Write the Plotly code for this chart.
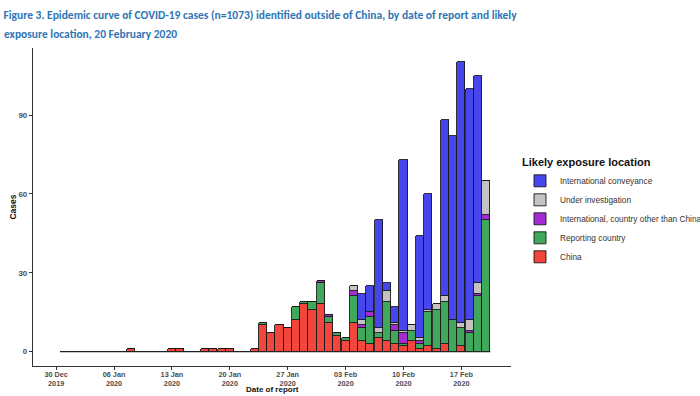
import pandas as pd
import plotly.graph_objects as go

# ---------------- data ----------------
start_date = "2019-12-31"
n_days = 52  # 31 Dec 2019 .. 20 Feb 2020
dates = pd.date_range(start_date, periods=n_days, freq="D")

china = [0, 0, 0, 0, 0, 0, 0, 0, 1, 0, 0, 0, 0, 1, 1, 0, 0, 1, 1, 1,
         1, 0, 0, 1, 10, 7, 10, 9, 12, 18, 16, 18, 11, 6, 4, 11, 4, 3, 5, 4,
         3, 2, 4, 1, 2, 1, 3, 0, 2, 0, 0, 0]
reporting = [0] * 24 + [1, 0, 0, 0, 5, 1, 3, 8, 2, 1, 1, 10, 5, 10, 2, 15,
                        5, 1, 4, 2, 13, 15, 16, 12, 7, 7, 21, 50]
intl_other = [0] * 24 + [0, 0, 0, 0, 0, 0, 0, 1, 1, 0, 0, 2, 1, 2, 0, 0,
                         2, 4, 0, 1, 0, 0, 0, 0, 0, 1, 1, 2]
under_inv = [0] * 24 + [0, 0, 0, 0, 0, 0, 0, 0, 0, 0, 0, 2, 2, 0, 2, 4,
                        1, 1, 2, 1, 1, 2, 2, 0, 2, 4, 4, 13]
conveyance = [0] * 24 + [0, 0, 0, 0, 0, 0, 0, 0, 0, 0, 0, 0, 10, 10, 41, 3,
                         6, 65, 0, 39, 44, 0, 67, 70, 99, 88, 79, 0]

series_names = ["China", "Reporting country",
                "International, country other than China",
                "Under investigation", "International conveyance"]
series_values = [china, reporting, intl_other, under_inv, conveyance]
series_colors = ["#F2463C", "#3FA85A", "#A42BD1", "#C4C2C2", "#4646EC"]

tick_dates = ["2019-12-30", "2020-01-06", "2020-01-13", "2020-01-20",
              "2020-01-27", "2020-02-03", "2020-02-10", "2020-02-17"]
tick_labels = ["30 Dec<br>2019", "06 Jan<br>2020", "13 Jan<br>2020", "20 Jan<br>2020",
               "27 Jan<br>2020", "03 Feb<br>2020", "10 Feb<br>2020", "17 Feb<br>2020"]
y_ticks = [0, 30, 60, 90]

title_line1 = "Figure 3. Epidemic curve of COVID-19 cases (n=1073) identified outside of China, by date of report and likely"
title_line2 = "exposure location, 20 February 2020"

# ---------------- figure ----------------
fig = go.Figure()

half_day = pd.Timedelta(hours=12)
fig.add_trace(go.Scatter(
    x=[dates[0] - half_day, dates[-1] + half_day], y=[0, 0],
    mode="lines", line=dict(color="#222222", width=1.2),
    showlegend=False, hoverinfo="skip"))

for name, vals, col in zip(series_names, series_values, series_colors):
    fig.add_trace(go.Bar(
        x=dates, y=vals, name=name,
        marker=dict(color=col, line=dict(color="#1a1a1a", width=0.9)),
        width=86400000 * 0.98))

ref0 = pd.Timestamp("2019-12-30")
sans = "Liberation Sans, Arial, sans-serif"
title_font = dict(family="Carlito, Liberation Sans Narrow, DejaVu Sans Condensed, Roboto, sans-serif",
                  size=11.5, color="#2E75B6")

fig.update_layout(
    width=700, height=396,
    barmode="stack", bargap=0,
    plot_bgcolor="white", paper_bgcolor="white",
    margin=dict(l=33, r=189, t=48, b=30, autoexpand=False),
    title=dict(
        text="<b>" + title_line1 + "</b>",
        font=title_font,
        x=0.005, xanchor="left", xref="container",
        y=1 - 15 / 396, yanchor="middle", yref="container"),
    xaxis=dict(
        type="date",
        range=[ref0 - pd.Timedelta(days=2.8), ref0 + pd.Timedelta(days=55.0)],
        tickmode="array", tickvals=tick_dates, ticktext=tick_labels,
        ticks="outside", ticklen=3, tickwidth=1, tickcolor="#333333",
        ticklabelstandoff=-2,
        tickfont=dict(family=sans, size=7.3, color="#4D4D4D", weight="bold"),
        showline=True, linecolor="#333333", linewidth=1.2,
        showgrid=False, zeroline=False, automargin=False),
    yaxis=dict(
        range=[-5.5, 115.5],
        tickmode="array", tickvals=y_ticks,
        ticks="outside", ticklen=3, tickwidth=1, tickcolor="#333333",
        tickfont=dict(family=sans, size=8, color="#4D4D4D", weight="bold"),
        showline=True, linecolor="#333333", linewidth=1.2,
        showgrid=False, zeroline=False, automargin=False,
        title=dict(text="<b>Cases</b>", standoff=0,
                   font=dict(family=sans, size=8.5, color="#111111"))),
    legend=dict(
        title=dict(text="<b>Likely exposure location</b>",
                   font=dict(family=sans, size=11, color="#111111")),
        traceorder="reversed",
        font=dict(family=sans, size=8.3, color="#333333"),
        x=520 / 700, xref="container", xanchor="left",
        y=1 - 152 / 396, yref="container", yanchor="top",
        bgcolor="rgba(0,0,0,0)", itemwidth=30),
    annotations=[
        dict(text="<b>Date of report</b>", xref="paper", yref="paper",
             x=0.5, y=(1 - 30) / 318, xanchor="center", yanchor="bottom", showarrow=False,
             borderpad=0,
             font=dict(family=sans, size=8, color="#111111")),
        dict(text="<b>" + title_line2 + "</b>", xref="paper", yref="paper",
             x=(2 - 33) / 478, y=(396 - 34 - 30) / 318, xanchor="left", yanchor="middle",
             showarrow=False, font=title_font),
    ],
)

fig.write_html(
    "out.html",
    config={"displayModeBar": False},
    post_script="document.body.style.margin='0';document.body.style.overflow='hidden';")
